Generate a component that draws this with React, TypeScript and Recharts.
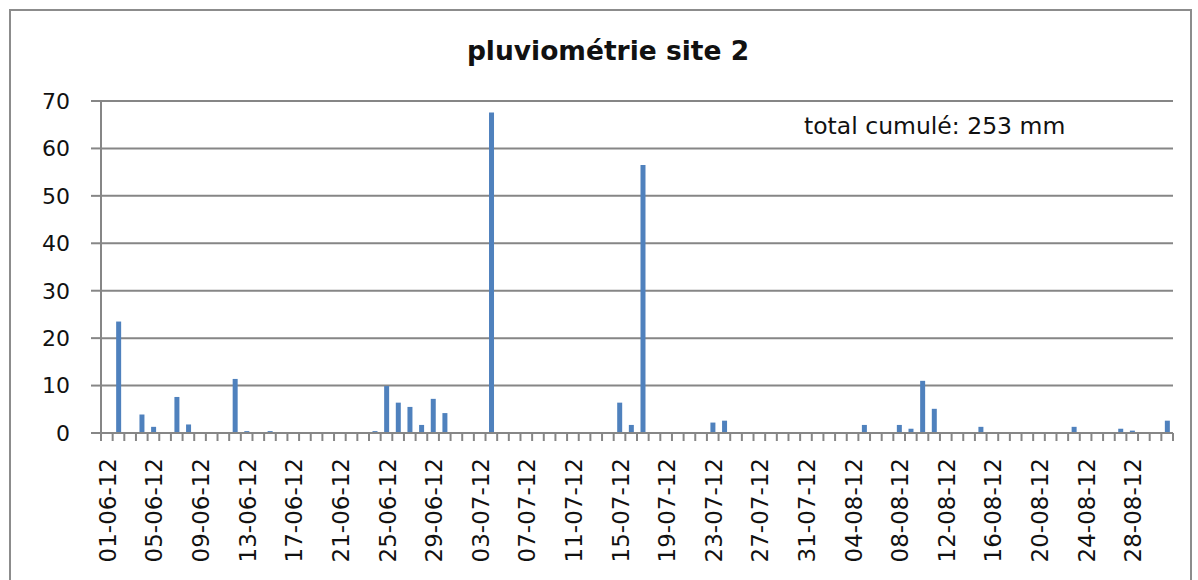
import { BarChart, Bar, XAxis, YAxis, CartesianGrid } from 'recharts';

// one label per day, 01-06-12 .. 31-08-12
const juneDates = [
  '01-06-12', '02-06-12', '03-06-12', '04-06-12', '05-06-12', '06-06-12', '07-06-12', '08-06-12', '09-06-12', '10-06-12',
  '11-06-12', '12-06-12', '13-06-12', '14-06-12', '15-06-12', '16-06-12', '17-06-12', '18-06-12', '19-06-12', '20-06-12',
  '21-06-12', '22-06-12', '23-06-12', '24-06-12', '25-06-12', '26-06-12', '27-06-12', '28-06-12', '29-06-12', '30-06-12',
];
const julyDates = [
  '01-07-12', '02-07-12', '03-07-12', '04-07-12', '05-07-12', '06-07-12', '07-07-12', '08-07-12', '09-07-12', '10-07-12',
  '11-07-12', '12-07-12', '13-07-12', '14-07-12', '15-07-12', '16-07-12', '17-07-12', '18-07-12', '19-07-12', '20-07-12',
  '21-07-12', '22-07-12', '23-07-12', '24-07-12', '25-07-12', '26-07-12', '27-07-12', '28-07-12', '29-07-12', '30-07-12',
  '31-07-12',
];
const augustDates = [
  '01-08-12', '02-08-12', '03-08-12', '04-08-12', '05-08-12', '06-08-12', '07-08-12', '08-08-12', '09-08-12', '10-08-12',
  '11-08-12', '12-08-12', '13-08-12', '14-08-12', '15-08-12', '16-08-12', '17-08-12', '18-08-12', '19-08-12', '20-08-12',
  '21-08-12', '22-08-12', '23-08-12', '24-08-12', '25-08-12', '26-08-12', '27-08-12', '28-08-12', '29-08-12', '30-08-12',
  '31-08-12',
];

// daily rain, mm
const juneRain = [
  0, 23.5, 0, 3.9, 1.3, 0, 7.6, 1.8, 0, 0,
  0, 11.4, 0.4, 0, 0.4, 0, 0, 0, 0, 0,
  0, 0, 0, 0.4, 9.9, 6.4, 5.5, 1.7, 7.2, 4.2,
];
const julyRain = [
  0, 0, 0, 67.6, 0, 0, 0, 0, 0, 0,
  0, 0, 0, 0, 6.4, 1.7, 56.5, 0, 0, 0,
  0, 0, 2.2, 2.6, 0, 0, 0, 0, 0, 0,
  0,
];
const augustRain = [
  0, 0, 0, 0, 1.7, 0, 0, 1.7, 0.9, 11.0,
  5.1, 0, 0, 0, 1.3, 0, 0, 0, 0, 0,
  0, 0, 1.3, 0, 0, 0, 0.9, 0.5, 0, 0,
  2.6,
];

const yTicks = [0, 10, 20, 30, 40, 50, 60, 70];
const title = 'pluviométrie site 2';
const totalText = 'total cumulé: 253 mm';

const dates = [...juneDates, ...julyDates, ...augustDates];
const rain = [...juneRain, ...julyRain, ...augustRain];
const data = dates.map((date, i) => ({ date, rain: rain[i] }));

const FONT = '"DejaVu Sans", Verdana, sans-serif';
const GRID = '#868686';
const PLOT_LEFT = 101;
const PLOT_RIGHT = 1173;
const STEP = (PLOT_RIGHT - PLOT_LEFT) / dates.length;
const TICK_SIZE = 8;
const TICK_MARGIN = 17;

// excel style: tick marks between categories, label every 4th day
const DateTick = (props: any) => {
  const { x, y, index, payload } = props;
  const top = y - TICK_SIZE - TICK_MARGIN;
  return (
    <g>
      <line x1={x - STEP / 2} x2={x - STEP / 2} y1={top} y2={top + TICK_SIZE} stroke={GRID} strokeWidth={2} />
      {index === dates.length - 1 && (
        <line x1={x + STEP / 2} x2={x + STEP / 2} y1={top} y2={top + TICK_SIZE} stroke={GRID} strokeWidth={2} />
      )}
      {index % 4 === 0 && (
        <text
          transform={`translate(${x + 1},${y}) rotate(-90)`}
          textAnchor="end"
          dy="0.35em"
          fontSize={23}
          fontFamily={FONT}
          fill="#111"
        >
          {payload.value}
        </text>
      )}
    </g>
  );
};

export default function App() {
  return (
    <div style={{ position: 'absolute', left: 0, top: 0, width: 1198, height: 580, background: '#fff', overflow: 'hidden' }}>
      {/* frame runs off the bottom of the picture */}
      <div
        style={{
          position: 'absolute',
          left: 9,
          top: 9,
          width: 1179,
          height: 600,
          border: '2px solid #8c8c8c',
        }}
      />
      <div
        style={{
          position: 'absolute',
          left: 408,
          top: 38,
          width: 400,
          textAlign: 'center',
          fontFamily: FONT,
          fontWeight: 'bold',
          fontSize: 26.5,
          lineHeight: 1,
          color: '#111',
        }}
      >
        {title}
      </div>
      <div
        style={{
          position: 'absolute',
          left: 804,
          top: 115,
          fontFamily: FONT,
          fontSize: 23.5,
          lineHeight: 1,
          color: '#111',
          whiteSpace: 'nowrap',
        }}
      >
        {totalText}
      </div>
      <div style={{ position: 'absolute', left: 0, top: 0 }}>
        <BarChart
          width={1198}
          height={580}
          data={data}
          margin={{ top: 101, right: 1198 - PLOT_RIGHT, left: 0, bottom: 0 }}
          barCategoryGap="30%"
        >
          <CartesianGrid vertical={false} stroke={GRID} strokeWidth={2} />
          <XAxis
            dataKey="date"
            interval={0}
            height={147}
            tickLine={false}
            tickSize={TICK_SIZE}
            tickMargin={TICK_MARGIN}
            axisLine={{ stroke: GRID, strokeWidth: 2 }}
            tick={<DateTick />}
          />
          <YAxis
            domain={[0, 70]}
            ticks={yTicks}
            width={PLOT_LEFT}
            tickSize={10}
            tickMargin={21}
            axisLine={{ stroke: GRID, strokeWidth: 2 }}
            tickLine={{ stroke: GRID, strokeWidth: 2 }}
            tick={{ fontSize: 22, fontFamily: FONT, fill: '#111' }}
          />
          <Bar dataKey="rain" fill="#4f81bd" isAnimationActive={false} />
        </BarChart>
      </div>
    </div>
  );
}
